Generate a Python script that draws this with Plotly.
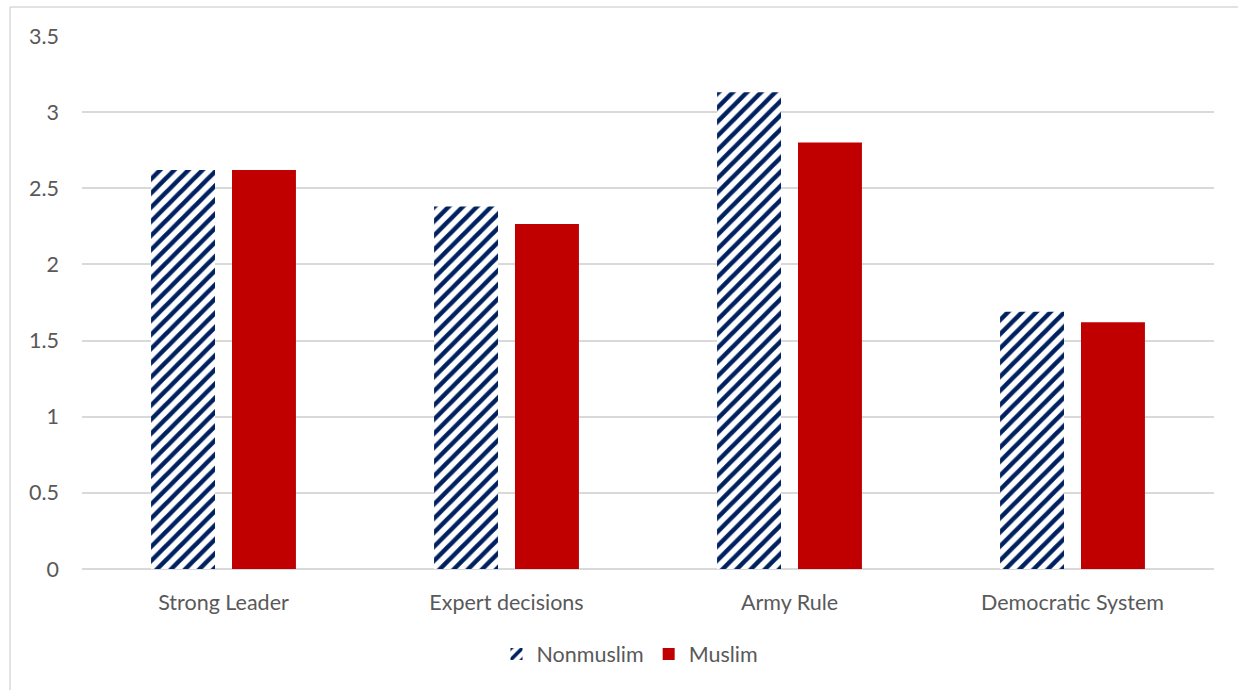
import plotly.graph_objects as go

categories = ["Strong Leader", "Expert decisions", "Army Rule", "Democratic System"]
nonmuslim = [2.62, 2.38, 3.13, 1.69]
muslim = [2.62, 2.265, 2.80, 1.62]
y_ticks = [0, 0.5, 1, 1.5, 2, 2.5, 3, 3.5]
y_tick_labels = ["0", "0.5", "1", "1.5", "2", "2.5", "3", "3.5"]

W, H = 1238, 690
ML, MR, MT, MB = 82, 24, 36, 121
pw, ph = W - ML - MR, H - MT - MB

TEXT = "#595959"
FONT = "Lato"
FS = 21.5

fig = go.Figure()
fig.add_trace(go.Bar(
    name="Nonmuslim", x=categories, y=nonmuslim,
    marker=dict(
        color="white",
        line=dict(width=0),
        pattern=dict(shape="/", fgcolor="#002060", bgcolor="white", fgopacity=1,
                     size=10, solidity=0.45, fillmode="replace"),
    ),
))
fig.add_trace(go.Bar(
    name="Muslim", x=categories, y=muslim,
    marker=dict(color="#C00000", line=dict(width=0)),
))

# chart area frame (left and top edges)
fig.add_shape(type="line", xref="paper", yref="paper",
              x0=(10 - ML) / pw, x1=(10 - ML) / pw,
              y0=(MT + ph - 7) / ph, y1=(MT + ph - H - 5) / ph,
              line=dict(color="#d9d9d9", width=1.5))
fig.add_shape(type="line", xref="paper", yref="paper",
              x0=(10 - ML) / pw, x1=(W + 5 - ML) / pw,
              y0=(MT + ph - 7) / ph, y1=(MT + ph - 7) / ph,
              line=dict(color="#d9d9d9", width=1.5))

fig.update_layout(
    width=W, height=H,
    margin=dict(l=ML, r=MR, t=MT, b=MB),
    paper_bgcolor="white", plot_bgcolor="white",
    barmode="group", bargap=0.428, bargroupgap=0.21,
    font=dict(family=FONT, size=FS, color=TEXT),
    showlegend=True,
    legend=dict(orientation="h", x=(630 - ML) / pw, xanchor="center",
                y=(569 - 654) / ph, yanchor="middle",
                font=dict(family=FONT, size=FS, color=TEXT),
                itemwidth=30, traceorder="normal"),
    xaxis=dict(showgrid=False, showline=False, ticks="", ticklabelstandoff=18,
               tickfont=dict(family=FONT, size=FS, color=TEXT)),
    yaxis=dict(range=[0, 3.5], tickvals=y_ticks, ticktext=y_tick_labels,
               showgrid=True, gridcolor="#d9d9d9", gridwidth=1.5,
               zeroline=True, zerolinecolor="#d9d9d9", zerolinewidth=1.5,
               showline=False, ticks="", ticklabelstandoff=22,
               tickfont=dict(family=FONT, size=FS, color=TEXT)),
)

fig.write_html("out.html")
